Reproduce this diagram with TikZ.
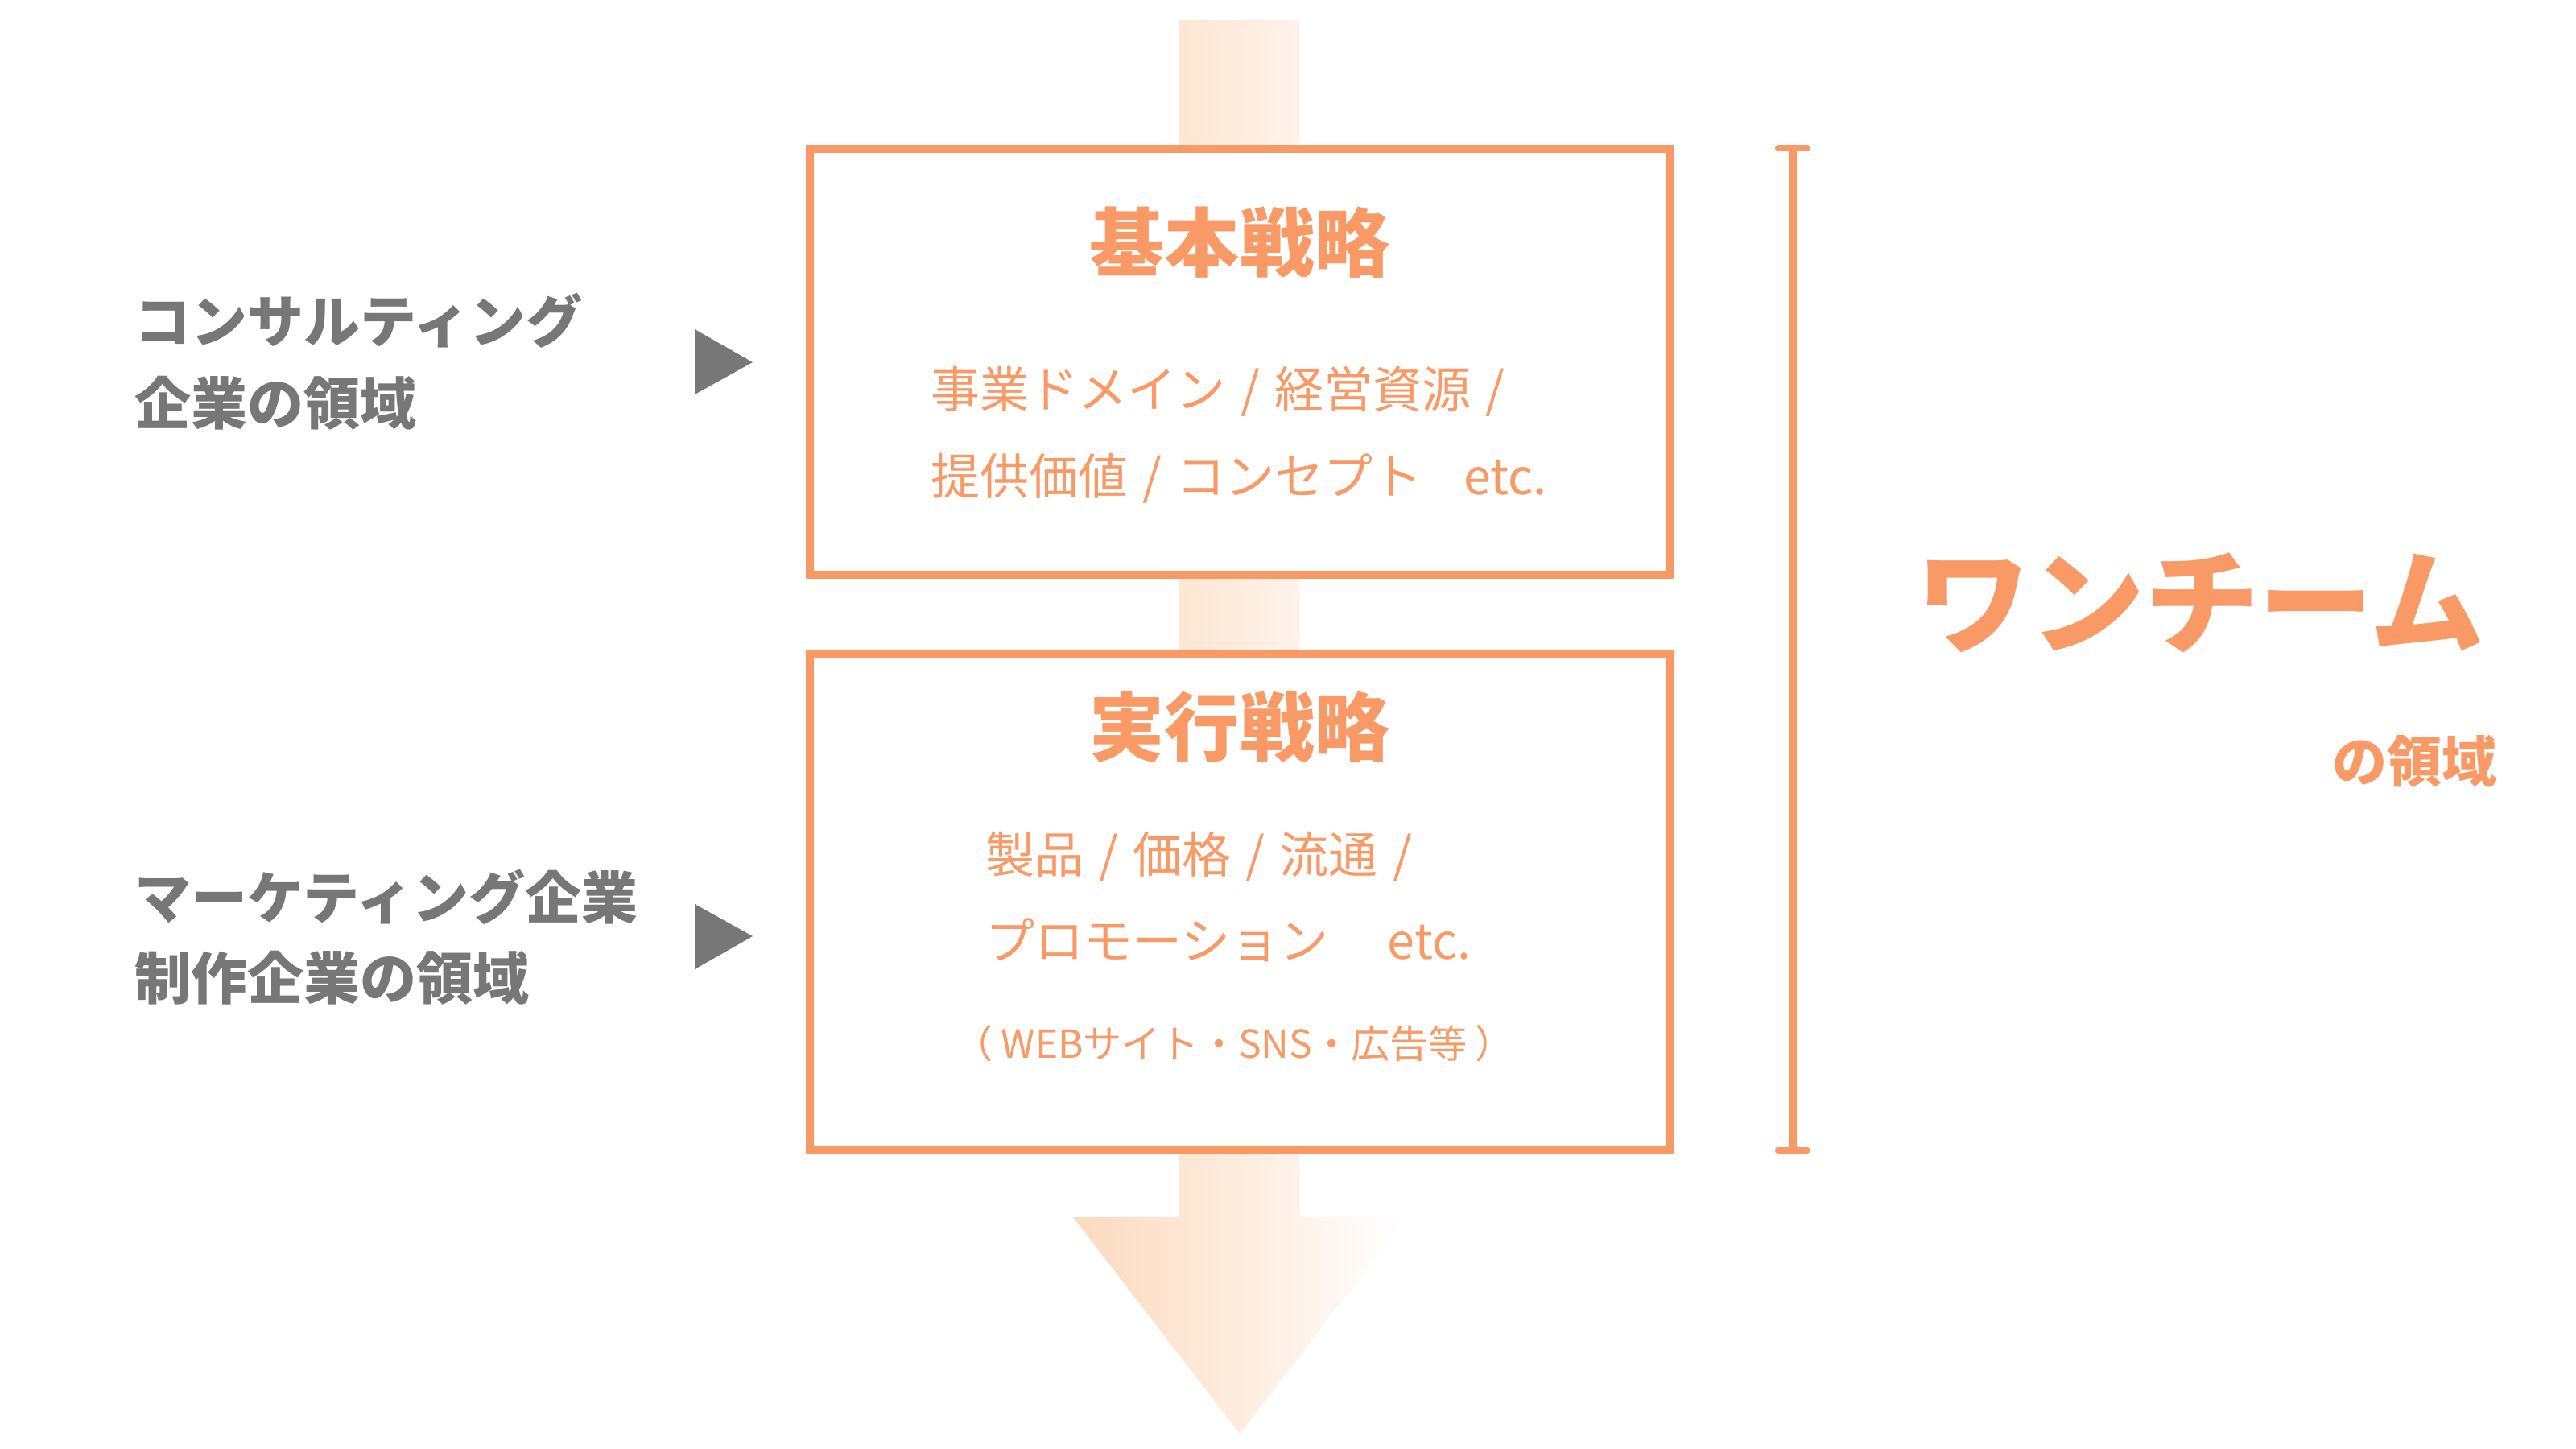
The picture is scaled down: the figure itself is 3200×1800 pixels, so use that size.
\documentclass[tikz,border=0pt]{standalone}
\usepackage{fontspec}
\setmainfont{Noto Sans CJK JP}
\definecolor{org}{RGB}{249,154,102}
\definecolor{gry}{RGB}{119,119,119}
\definecolor{peach}{RGB}{252,218,190}
\newcommand{\pxfont}[1]{\fontsize{\fpeval{#1*0.28453}pt}{\fpeval{#1*0.28453*1.2}pt}\selectfont}
\newcommand{\sepsl}{\hspace{.3em}/\hspace{.3em}}
\tikzset{
  stratbox/.style={draw=org, line width=2.85pt, fill=white, minimum width=10.67cm, inner sep=0pt},
  orgtxt/.style={inner sep=0pt, text=org},
  graytxt/.style={inner sep=0pt, text=gry, font=\bfseries\pxfont{70}, anchor=base west},
  title/.style={orgtxt, font=\bfseries\pxfont{93}, anchor=base},
  body/.style={orgtxt, font=\pxfont{61}, anchor=base west},
  pointer/.style={fill=gry},
}
\begin{document}
\begin{tikzpicture}[x=0.01cm, y=-0.01cm]
\useasboundingbox (0,0) rectangle (3200,1800);
\fill[white] (0,0) rectangle (3200,1800);
% big arrow
\shade[left color=peach, right color=white]
  (1465,25) -- (1614,25) -- (1614,1512) -- (1747,1512) -- (1540,1781) -- (1333,1512) -- (1465,1512) -- cycle;
% boxes
\node[stratbox, minimum height=5.29cm] (kihon) at (1540,449.5) {};
\node[stratbox, minimum height=6.16cm] (jikko) at (1540,1121) {};
% box 1 text
\node[title] (kihonT) at (1540,337) {基本戦略};
\node[body] (kihon1) at (1156,506) {事業ドメイン\sepsl 経営資源\sepsl};
\node[body] (kihon2) at (1156,614) {提供価値\sepsl コンセプト\hspace{0.85em}etc.};
% box 2 text
\node[title] (jikkoT) at (1540,938) {実行戦略};
\node[body] (jikko1) at (1224,1084) {製品\sepsl 価格\sepsl 流通\sepsl};
\node[body] (jikko2) at (1224,1191) {プロモーション\hspace{1.2em}etc.};
\node[orgtxt, font=\pxfont{48}, anchor=base] (jikko3) at (1533,1314) {（ WEBサイト・SNS・広告等 ）};
% left labels
\node[graytxt] (c1) at (167,425) {コンサルティング};
\node[graytxt] (c2) at (167,527) {企業の領域};
\node[graytxt] (m1) at (167,1141) {マーケティング企業};
\node[graytxt] (m2) at (167,1241) {制作企業の領域};
\fill[pointer] (863,409) -- (863,490) -- (935,450) -- cycle;
\fill[pointer] (863,1123) -- (863,1204) -- (935,1163) -- cycle;
% bracket
\coordinate (btop) at (2227,184);
\coordinate (bbot) at (2227,1429);
\draw[org, line width=2.7pt] (btop) -- (bbot);
\draw[org, line width=2.4pt, line cap=round] ([xshift=-0.18cm]btop) -- ([xshift=0.18cm]btop);
\draw[org, line width=2.4pt, line cap=round] ([xshift=-0.18cm]bbot) -- ([xshift=0.18cm]bbot);
% one team
\node[orgtxt, font=\bfseries\pxfont{142}, anchor=base west] (one) at (2380,801) {ワンチーム};
\node[orgtxt, font=\bfseries\pxfont{68}, anchor=base east] (ryoiki) at (3102,971) {の領域};
\end{tikzpicture}
\end{document}
